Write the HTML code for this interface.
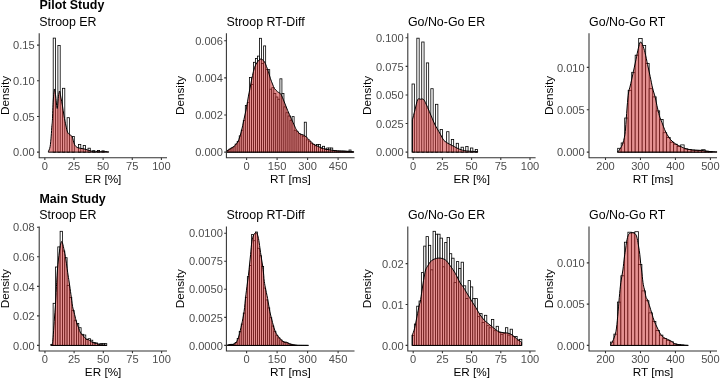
<!DOCTYPE html>
<html><head><meta charset="utf-8"><style>
html,body{margin:0;padding:0;background:#fff;width:720px;height:379px;overflow:hidden}
svg{display:block;will-change:transform}
text{font-family:"Liberation Sans", sans-serif}
</style></head><body>
<svg width="720" height="379" viewBox="0 0 720 379">
<rect width="720" height="379" fill="#fff"/>
<text x="39.5" y="9.3" font-size="12.42" font-weight="bold">Pilot Study</text>
<text x="39.5" y="202.7" font-size="12.42" font-weight="bold">Main Study</text>
<g fill="#fff" stroke="#000" stroke-width="0.8"><rect x="53.2" y="38.1" width="2.3" height="114.05"/><rect x="57.9" y="45.4" width="2.3" height="106.75"/><rect x="62.5" y="88.3" width="2.3" height="63.85"/><rect x="67.1" y="117.7" width="2.3" height="34.45"/><rect x="72" y="136.4" width="2.3" height="15.75"/><rect x="78.5" y="144.4" width="2.3" height="7.75"/><rect x="83.2" y="145.4" width="2.3" height="6.75"/><rect x="88" y="148.2" width="2.3" height="3.95"/><rect x="92.6" y="150.6" width="2.3" height="1.55"/><rect x="97.3" y="150.5" width="2.3" height="1.65"/><rect x="101.9" y="150.9" width="2.3" height="1.25"/></g>
<path d="M48.3,151.85 C48.6,150.99 49.62,149.32 50.1,146.7 C50.58,144.07 50.9,139.62 51.2,136.1 C51.5,132.58 51.7,128.23 51.9,125.6 C52.1,122.97 52.17,124.57 52.4,120.3 C52.63,116.03 52.94,105.22 53.3,100 C53.66,94.78 54.13,89.5 54.55,89 C54.97,88.5 55.36,93.75 55.8,97 C56.24,100.25 56.77,108.5 57.2,108.5 C57.63,108.5 58,99.92 58.4,97 C58.8,94.08 59.17,90.83 59.6,91 C60.03,91.17 60.52,95.5 61,98 C61.48,100.5 62,103.02 62.5,106 C63,108.98 63.42,112.57 64,115.9 C64.58,119.23 65.42,123.32 66,126 C66.58,128.68 66.95,130.58 67.5,132 C68.05,133.42 68.55,133.75 69.3,134.5 C70.05,135.25 71.12,134.82 72,136.5 C72.88,138.18 73.63,142.73 74.6,144.6 C75.57,146.47 76.23,146.98 77.8,147.7 C79.37,148.42 81.82,148.35 84,148.9 C86.18,149.45 88.97,150.52 90.9,151 C92.83,151.48 94.42,151.8 95.6,151.8 C96.78,151.8 97.18,151.03 98,151 C98.82,150.97 99.7,151.55 100.5,151.6 C101.3,151.65 101.43,151.26 102.8,151.3 C104.17,151.34 107.72,151.76 108.7,151.85 L108.7,152.15 L48.3,152.15 Z" fill="#cd2626" fill-opacity="0.5" stroke="none"/>
<path d="M48.3,151.85 C48.6,150.99 49.62,149.32 50.1,146.7 C50.58,144.07 50.9,139.62 51.2,136.1 C51.5,132.58 51.7,128.23 51.9,125.6 C52.1,122.97 52.17,124.57 52.4,120.3 C52.63,116.03 52.94,105.22 53.3,100 C53.66,94.78 54.13,89.5 54.55,89 C54.97,88.5 55.36,93.75 55.8,97 C56.24,100.25 56.77,108.5 57.2,108.5 C57.63,108.5 58,99.92 58.4,97 C58.8,94.08 59.17,90.83 59.6,91 C60.03,91.17 60.52,95.5 61,98 C61.48,100.5 62,103.02 62.5,106 C63,108.98 63.42,112.57 64,115.9 C64.58,119.23 65.42,123.32 66,126 C66.58,128.68 66.95,130.58 67.5,132 C68.05,133.42 68.55,133.75 69.3,134.5 C70.05,135.25 71.12,134.82 72,136.5 C72.88,138.18 73.63,142.73 74.6,144.6 C75.57,146.47 76.23,146.98 77.8,147.7 C79.37,148.42 81.82,148.35 84,148.9 C86.18,149.45 88.97,150.52 90.9,151 C92.83,151.48 94.42,151.8 95.6,151.8 C96.78,151.8 97.18,151.03 98,151 C98.82,150.97 99.7,151.55 100.5,151.6 C101.3,151.65 101.43,151.26 102.8,151.3 C104.17,151.34 107.72,151.76 108.7,151.85 L108.7,152.15 L48.3,152.15 Z" fill="none" stroke="#000" stroke-width="1.0" stroke-linejoin="round"/>
<path d="M39.2,33.3 V157.7 H167" fill="none" stroke="#333" stroke-width="1.07"/>
<text x="44.85" y="169.8" font-size="11.1" fill="#4d4d4d" text-anchor="middle">0</text>
<text x="73.99" y="169.8" font-size="11.1" fill="#4d4d4d" text-anchor="middle">25</text>
<text x="103.12" y="169.8" font-size="11.1" fill="#4d4d4d" text-anchor="middle">50</text>
<text x="132.26" y="169.8" font-size="11.1" fill="#4d4d4d" text-anchor="middle">75</text>
<text x="161.4" y="169.8" font-size="11.1" fill="#4d4d4d" text-anchor="middle">100</text>
<text x="34.6" y="156.3" font-size="11.1" fill="#4d4d4d" text-anchor="end">0.00</text>
<text x="34.6" y="120.62" font-size="11.1" fill="#4d4d4d" text-anchor="end">0.05</text>
<text x="34.6" y="84.93" font-size="11.1" fill="#4d4d4d" text-anchor="end">0.10</text>
<text x="34.6" y="49.25" font-size="11.1" fill="#4d4d4d" text-anchor="end">0.15</text>
<path d="M44.85,157.7 v2.2 M73.99,157.7 v2.2 M103.12,157.7 v2.2 M132.26,157.7 v2.2 M161.4,157.7 v2.2 M39.2,152.15 h-2.2 M39.2,116.47 h-2.2 M39.2,80.78 h-2.2 M39.2,45.1 h-2.2" stroke="#333" stroke-width="1.07"/>
<text x="39.3" y="25.6" font-size="12.42">Stroop ER</text>
<text x="103.1" y="182.8" font-size="11.75" text-anchor="middle">ER [%]</text>
<text transform="translate(8.8,95.5) rotate(-90)" font-size="11.75" text-anchor="middle">Density</text>
<g fill="#fff" stroke="#000" stroke-width="0.8"><rect x="227.03" y="150.31" width="2.03" height="1.84"/><rect x="229.06" y="149.15" width="2.03" height="3"/><rect x="231.1" y="147.93" width="2.03" height="4.22"/><rect x="233.13" y="146.78" width="2.03" height="5.37"/><rect x="235.16" y="144.09" width="2.03" height="8.06"/><rect x="237.19" y="141.42" width="2.03" height="10.73"/><rect x="239.23" y="135.89" width="2.03" height="16.26"/><rect x="241.26" y="130.21" width="2.03" height="21.94"/><rect x="243.29" y="120.61" width="2.03" height="31.54"/><rect x="245.33" y="105.4" width="2.03" height="46.75"/><rect x="247.36" y="102.3" width="2.03" height="49.85"/><rect x="249.39" y="77.5" width="2.03" height="74.65"/><rect x="251.43" y="84.38" width="2.03" height="67.77"/><rect x="253.46" y="62.3" width="2.03" height="89.85"/><rect x="255.49" y="58.4" width="2.03" height="93.75"/><rect x="257.52" y="56.1" width="2.03" height="96.05"/><rect x="259.56" y="38.3" width="2.03" height="113.85"/><rect x="261.59" y="63.59" width="2.03" height="88.56"/><rect x="263.62" y="45.9" width="2.03" height="106.25"/><rect x="265.66" y="69.61" width="2.03" height="82.54"/><rect x="267.69" y="69.6" width="2.03" height="82.55"/><rect x="269.72" y="89.19" width="2.03" height="62.96"/><rect x="271.76" y="87.68" width="2.03" height="64.47"/><rect x="273.79" y="93.49" width="2.03" height="58.66"/><rect x="275.82" y="96.99" width="2.03" height="55.16"/><rect x="277.86" y="99.21" width="2.03" height="52.94"/><rect x="279.89" y="78.8" width="2.03" height="73.35"/><rect x="281.92" y="93.5" width="2.03" height="58.65"/><rect x="283.95" y="106.88" width="2.03" height="45.27"/><rect x="285.99" y="112.73" width="2.03" height="39.42"/><rect x="288.02" y="116.03" width="2.03" height="36.12"/><rect x="290.05" y="120.31" width="2.03" height="31.84"/><rect x="292.09" y="116.6" width="2.03" height="35.55"/><rect x="294.12" y="130.24" width="2.03" height="21.91"/><rect x="296.15" y="131.77" width="2.03" height="20.38"/><rect x="298.19" y="133.69" width="2.03" height="18.46"/><rect x="300.22" y="134.82" width="2.03" height="17.33"/><rect x="302.25" y="136.19" width="2.03" height="15.96"/><rect x="304.28" y="122.2" width="2.03" height="29.95"/><rect x="306.32" y="139.85" width="2.03" height="12.3"/><rect x="308.35" y="141.67" width="2.03" height="10.48"/><rect x="310.38" y="143.27" width="2.03" height="8.88"/><rect x="312.42" y="144.31" width="2.03" height="7.84"/><rect x="314.45" y="145.79" width="2.03" height="6.36"/><rect x="316.48" y="144.5" width="2.03" height="7.65"/><rect x="318.51" y="144.5" width="2.03" height="7.65"/><rect x="320.55" y="148.25" width="2.03" height="3.9"/><rect x="322.58" y="146.3" width="2.03" height="5.85"/><rect x="324.61" y="149.19" width="2.03" height="2.96"/><rect x="326.65" y="148" width="2.03" height="4.15"/><rect x="328.68" y="148" width="2.03" height="4.15"/><rect x="330.71" y="148" width="2.03" height="4.15"/><rect x="332.75" y="150.6" width="2.03" height="1.55"/><rect x="334.78" y="150.79" width="2.03" height="1.36"/><rect x="336.81" y="151.03" width="2.03" height="1.12"/><rect x="338.85" y="151.14" width="2.03" height="1.01"/><rect x="340.88" y="151.14" width="2.03" height="1.01"/><rect x="342.91" y="151.18" width="2.03" height="0.97"/><rect x="344.94" y="151.32" width="2.03" height="0.83"/><rect x="346.98" y="151.46" width="2.03" height="0.69"/><rect x="349.01" y="150" width="2.03" height="2.15"/><rect x="351.04" y="151.75" width="2.03" height="0.4"/></g>
<path d="M226.9,150.9 C227.47,150.53 229.17,149.42 230.3,148.7 C231.43,147.98 232.42,147.8 233.7,146.6 C234.98,145.4 236.72,144.07 238,141.5 C239.28,138.93 240.4,134.92 241.4,131.2 C242.4,127.48 243.13,123.2 244,119.2 C244.87,115.2 245.88,110.92 246.6,107.2 C247.32,103.48 247.73,100.05 248.3,96.9 C248.87,93.75 249.52,90.78 250,88.3 C250.48,85.82 250.78,84.13 251.2,82 C251.62,79.87 251.95,77.9 252.5,75.5 C253.05,73.1 253.72,69.8 254.5,67.6 C255.28,65.4 256.15,63.73 257.2,62.3 C258.25,60.87 259.6,59.1 260.8,59 C262,58.9 263.47,60.48 264.4,61.7 C265.33,62.92 265.73,64.65 266.4,66.3 C267.07,67.95 267.75,69.62 268.4,71.6 C269.05,73.58 269.62,76.13 270.3,78.2 C270.98,80.27 271.8,82.28 272.5,84 C273.2,85.72 273.67,87.22 274.5,88.5 C275.33,89.78 276.43,90.73 277.5,91.7 C278.57,92.67 279.77,92.58 280.9,94.3 C282.03,96.02 283.17,99.28 284.3,102 C285.43,104.72 286.55,107.88 287.7,110.6 C288.85,113.32 290.05,115.73 291.2,118.3 C292.35,120.87 293.75,124.13 294.6,126 C295.45,127.87 295.45,128.22 296.3,129.5 C297.15,130.78 298.55,132.8 299.7,133.7 C300.85,134.6 302.05,134.32 303.2,134.9 C304.35,135.48 305.47,136.25 306.6,137.2 C307.73,138.15 308.87,139.47 310,140.6 C311.13,141.73 311.97,143 313.4,144 C314.83,145 316.88,145.82 318.6,146.6 C320.32,147.38 321.7,148.13 323.7,148.7 C325.7,149.27 328.3,149.63 330.6,150 C332.9,150.37 334.93,150.7 337.5,150.9 C340.07,151.1 343.28,151.04 346,151.2 C348.72,151.36 352.5,151.74 353.8,151.85 L353.8,152.15 L226.9,152.15 Z" fill="#cd2626" fill-opacity="0.5" stroke="none"/>
<path d="M226.9,150.9 C227.47,150.53 229.17,149.42 230.3,148.7 C231.43,147.98 232.42,147.8 233.7,146.6 C234.98,145.4 236.72,144.07 238,141.5 C239.28,138.93 240.4,134.92 241.4,131.2 C242.4,127.48 243.13,123.2 244,119.2 C244.87,115.2 245.88,110.92 246.6,107.2 C247.32,103.48 247.73,100.05 248.3,96.9 C248.87,93.75 249.52,90.78 250,88.3 C250.48,85.82 250.78,84.13 251.2,82 C251.62,79.87 251.95,77.9 252.5,75.5 C253.05,73.1 253.72,69.8 254.5,67.6 C255.28,65.4 256.15,63.73 257.2,62.3 C258.25,60.87 259.6,59.1 260.8,59 C262,58.9 263.47,60.48 264.4,61.7 C265.33,62.92 265.73,64.65 266.4,66.3 C267.07,67.95 267.75,69.62 268.4,71.6 C269.05,73.58 269.62,76.13 270.3,78.2 C270.98,80.27 271.8,82.28 272.5,84 C273.2,85.72 273.67,87.22 274.5,88.5 C275.33,89.78 276.43,90.73 277.5,91.7 C278.57,92.67 279.77,92.58 280.9,94.3 C282.03,96.02 283.17,99.28 284.3,102 C285.43,104.72 286.55,107.88 287.7,110.6 C288.85,113.32 290.05,115.73 291.2,118.3 C292.35,120.87 293.75,124.13 294.6,126 C295.45,127.87 295.45,128.22 296.3,129.5 C297.15,130.78 298.55,132.8 299.7,133.7 C300.85,134.6 302.05,134.32 303.2,134.9 C304.35,135.48 305.47,136.25 306.6,137.2 C307.73,138.15 308.87,139.47 310,140.6 C311.13,141.73 311.97,143 313.4,144 C314.83,145 316.88,145.82 318.6,146.6 C320.32,147.38 321.7,148.13 323.7,148.7 C325.7,149.27 328.3,149.63 330.6,150 C332.9,150.37 334.93,150.7 337.5,150.9 C340.07,151.1 343.28,151.04 346,151.2 C348.72,151.36 352.5,151.74 353.8,151.85 L353.8,152.15 L226.9,152.15 Z" fill="none" stroke="#000" stroke-width="1.0" stroke-linejoin="round"/>
<path d="M226.4,33.3 V157.7 H354.5" fill="none" stroke="#333" stroke-width="1.07"/>
<text x="246.6" y="169.8" font-size="11.1" fill="#4d4d4d" text-anchor="middle">0</text>
<text x="277.1" y="169.8" font-size="11.1" fill="#4d4d4d" text-anchor="middle">150</text>
<text x="307.6" y="169.8" font-size="11.1" fill="#4d4d4d" text-anchor="middle">300</text>
<text x="338.1" y="169.8" font-size="11.1" fill="#4d4d4d" text-anchor="middle">450</text>
<text x="222.9" y="156.3" font-size="11.1" fill="#4d4d4d" text-anchor="end">0.000</text>
<text x="222.9" y="119.15" font-size="11.1" fill="#4d4d4d" text-anchor="end">0.002</text>
<text x="222.9" y="82" font-size="11.1" fill="#4d4d4d" text-anchor="end">0.004</text>
<text x="222.9" y="44.85" font-size="11.1" fill="#4d4d4d" text-anchor="end">0.006</text>
<path d="M246.6,157.7 v2.2 M277.1,157.7 v2.2 M307.6,157.7 v2.2 M338.1,157.7 v2.2 M226.4,152.15 h-2.2 M226.4,115 h-2.2 M226.4,77.85 h-2.2 M226.4,40.7 h-2.2" stroke="#333" stroke-width="1.07"/>
<text x="226.5" y="25.6" font-size="12.42">Stroop RT-Diff</text>
<text x="290.45" y="182.8" font-size="11.75" text-anchor="middle">RT [ms]</text>
<text transform="translate(184,95.5) rotate(-90)" font-size="11.75" text-anchor="middle">Density</text>
<g fill="#fff" stroke="#000" stroke-width="0.8"><rect x="412.03" y="84" width="2.34" height="68.15"/><rect x="416.83" y="38.2" width="2.34" height="113.95"/><rect x="421.73" y="42" width="2.34" height="110.15"/><rect x="426.33" y="62.9" width="2.34" height="89.25"/><rect x="430.83" y="88.7" width="2.34" height="63.45"/><rect x="435.53" y="104.3" width="2.34" height="47.85"/><rect x="440.13" y="129.5" width="2.34" height="22.65"/><rect x="446.63" y="131.7" width="2.34" height="20.45"/><rect x="451.33" y="139.4" width="2.34" height="12.75"/><rect x="456.23" y="143.3" width="2.34" height="8.85"/><rect x="461.03" y="147.2" width="2.34" height="4.95"/><rect x="465.73" y="146.4" width="2.34" height="5.75"/><rect x="470.53" y="148" width="2.34" height="4.15"/><rect x="475.23" y="149.4" width="2.34" height="2.75"/></g>
<path d="M412.4,119.8 C412.83,118.13 414.12,113.17 415,109.8 C415.88,106.43 416.78,101.37 417.7,99.6 C418.62,97.83 419.53,99.23 420.5,99.2 C421.47,99.17 422.57,98.6 423.5,99.4 C424.43,100.2 425.13,102 426.1,104 C427.07,106 428.25,108.93 429.3,111.4 C430.35,113.87 431.43,116.53 432.4,118.8 C433.37,121.07 434.3,123.35 435.1,125 C435.9,126.65 436.28,127.1 437.2,128.7 C438.12,130.3 439.47,132.62 440.6,134.6 C441.73,136.58 442.57,139.03 444,140.6 C445.43,142.17 447.48,143 449.2,144 C450.92,145 452.58,145.73 454.3,146.6 C456.02,147.47 457.5,148.48 459.5,149.2 C461.5,149.92 463.27,150.5 466.3,150.9 C469.33,151.3 475.8,151.48 477.7,151.6 L477.7,152.15 L412.4,152.15 Z" fill="#cd2626" fill-opacity="0.5" stroke="none"/>
<path d="M412.4,119.8 C412.83,118.13 414.12,113.17 415,109.8 C415.88,106.43 416.78,101.37 417.7,99.6 C418.62,97.83 419.53,99.23 420.5,99.2 C421.47,99.17 422.57,98.6 423.5,99.4 C424.43,100.2 425.13,102 426.1,104 C427.07,106 428.25,108.93 429.3,111.4 C430.35,113.87 431.43,116.53 432.4,118.8 C433.37,121.07 434.3,123.35 435.1,125 C435.9,126.65 436.28,127.1 437.2,128.7 C438.12,130.3 439.47,132.62 440.6,134.6 C441.73,136.58 442.57,139.03 444,140.6 C445.43,142.17 447.48,143 449.2,144 C450.92,145 452.58,145.73 454.3,146.6 C456.02,147.47 457.5,148.48 459.5,149.2 C461.5,149.92 463.27,150.5 466.3,150.9 C469.33,151.3 475.8,151.48 477.7,151.6 L477.7,152.15 L412.4,152.15 Z" fill="none" stroke="#000" stroke-width="1.0" stroke-linejoin="round"/>
<path d="M407.8,33.3 V157.7 H535.6" fill="none" stroke="#333" stroke-width="1.07"/>
<text x="413.2" y="169.8" font-size="11.1" fill="#4d4d4d" text-anchor="middle">0</text>
<text x="442.4" y="169.8" font-size="11.1" fill="#4d4d4d" text-anchor="middle">25</text>
<text x="471.6" y="169.8" font-size="11.1" fill="#4d4d4d" text-anchor="middle">50</text>
<text x="500.8" y="169.8" font-size="11.1" fill="#4d4d4d" text-anchor="middle">75</text>
<text x="530" y="169.8" font-size="11.1" fill="#4d4d4d" text-anchor="middle">100</text>
<text x="403.7" y="156.3" font-size="11.1" fill="#4d4d4d" text-anchor="end">0.000</text>
<text x="403.7" y="127.71" font-size="11.1" fill="#4d4d4d" text-anchor="end">0.025</text>
<text x="403.7" y="99.12" font-size="11.1" fill="#4d4d4d" text-anchor="end">0.050</text>
<text x="403.7" y="70.54" font-size="11.1" fill="#4d4d4d" text-anchor="end">0.075</text>
<text x="403.7" y="41.95" font-size="11.1" fill="#4d4d4d" text-anchor="end">0.100</text>
<path d="M413.2,157.7 v2.2 M442.4,157.7 v2.2 M471.6,157.7 v2.2 M500.8,157.7 v2.2 M530,157.7 v2.2 M407.8,152.15 h-2.2 M407.8,123.56 h-2.2 M407.8,94.97 h-2.2 M407.8,66.39 h-2.2 M407.8,37.8 h-2.2" stroke="#333" stroke-width="1.07"/>
<text x="407.9" y="25.6" font-size="12.42">Go/No-Go ER</text>
<text x="471.7" y="182.8" font-size="11.75" text-anchor="middle">ER [%]</text>
<text transform="translate(371.1,95.5) rotate(-90)" font-size="11.75" text-anchor="middle">Density</text>
<g fill="#fff" stroke="#000" stroke-width="0.8"><rect x="617.7" y="148.3" width="3.5" height="3.85"/><rect x="621.19" y="142.96" width="3.5" height="9.19"/><rect x="624.69" y="118.01" width="3.5" height="34.14"/><rect x="628.19" y="90.3" width="3.5" height="61.85"/><rect x="631.69" y="72.3" width="3.5" height="79.85"/><rect x="635.18" y="55.2" width="3.5" height="96.95"/><rect x="638.68" y="38.5" width="3.5" height="113.65"/><rect x="642.18" y="45.4" width="3.5" height="106.75"/><rect x="645.67" y="63.4" width="3.5" height="88.75"/><rect x="649.17" y="88.69" width="3.5" height="63.46"/><rect x="652.67" y="96.9" width="3.5" height="55.25"/><rect x="656.16" y="110.86" width="3.5" height="41.29"/><rect x="659.66" y="119.5" width="3.5" height="32.65"/><rect x="663.16" y="132.72" width="3.5" height="19.43"/><rect x="666.66" y="137.45" width="3.5" height="14.7"/><rect x="670.15" y="142.27" width="3.5" height="9.88"/><rect x="673.65" y="144.22" width="3.5" height="7.93"/><rect x="677.15" y="146.41" width="3.5" height="5.74"/><rect x="680.64" y="144.9" width="3.5" height="7.25"/><rect x="684.14" y="148.96" width="3.5" height="3.19"/><rect x="687.64" y="149.56" width="3.5" height="2.59"/><rect x="691.13" y="150.12" width="3.5" height="2.03"/><rect x="694.63" y="150.34" width="3.5" height="1.81"/><rect x="698.13" y="150.41" width="3.5" height="1.74"/><rect x="701.62" y="149.7" width="3.5" height="2.45"/><rect x="705.12" y="151.22" width="3.5" height="0.93"/><rect x="708.62" y="151.59" width="3.5" height="0.56"/></g>
<path d="M617.5,151.6 C617.73,151.48 618.53,151.3 618.9,150.9 C619.27,150.5 619.13,150.2 619.7,149.2 C620.27,148.2 621.43,147.33 622.3,144.9 C623.17,142.47 624.27,138.6 624.9,134.6 C625.53,130.6 625.72,125.67 626.1,120.9 C626.48,116.13 626.8,110.65 627.2,106 C627.6,101.35 628,96.33 628.5,93 C629,89.67 629.5,89.02 630.2,86 C630.9,82.98 631.73,79.33 632.7,74.9 C633.67,70.47 635.07,63.8 636,59.4 C636.93,55 637.57,51.4 638.3,48.5 C639.03,45.6 639.65,42.5 640.4,42 C641.15,41.5 642.03,43.73 642.8,45.5 C643.57,47.27 644.2,49.42 645,52.6 C645.8,55.78 646.73,60.6 647.6,64.6 C648.47,68.6 649.35,72.6 650.2,76.6 C651.05,80.6 651.88,85.22 652.7,88.6 C653.52,91.98 654.4,94.1 655.1,96.9 C655.8,99.7 656.18,102.27 656.9,105.4 C657.62,108.53 658.55,112.83 659.4,115.7 C660.25,118.57 661.13,120.3 662,122.6 C662.87,124.9 663.73,127.5 664.6,129.5 C665.47,131.5 666.2,132.9 667.2,134.6 C668.2,136.3 669.18,138.13 670.6,139.7 C672.02,141.27 673.98,142.85 675.7,144 C677.42,145.15 679.18,145.8 680.9,146.6 C682.62,147.4 684,148.23 686,148.8 C688,149.37 690.32,149.73 692.9,150 C695.48,150.27 698.93,150.17 701.5,150.4 C704.07,150.63 705.73,151.16 708.3,151.4 C710.87,151.64 715.47,151.78 716.9,151.85 L716.9,152.15 L617.5,152.15 Z" fill="#cd2626" fill-opacity="0.5" stroke="none"/>
<path d="M617.5,151.6 C617.73,151.48 618.53,151.3 618.9,150.9 C619.27,150.5 619.13,150.2 619.7,149.2 C620.27,148.2 621.43,147.33 622.3,144.9 C623.17,142.47 624.27,138.6 624.9,134.6 C625.53,130.6 625.72,125.67 626.1,120.9 C626.48,116.13 626.8,110.65 627.2,106 C627.6,101.35 628,96.33 628.5,93 C629,89.67 629.5,89.02 630.2,86 C630.9,82.98 631.73,79.33 632.7,74.9 C633.67,70.47 635.07,63.8 636,59.4 C636.93,55 637.57,51.4 638.3,48.5 C639.03,45.6 639.65,42.5 640.4,42 C641.15,41.5 642.03,43.73 642.8,45.5 C643.57,47.27 644.2,49.42 645,52.6 C645.8,55.78 646.73,60.6 647.6,64.6 C648.47,68.6 649.35,72.6 650.2,76.6 C651.05,80.6 651.88,85.22 652.7,88.6 C653.52,91.98 654.4,94.1 655.1,96.9 C655.8,99.7 656.18,102.27 656.9,105.4 C657.62,108.53 658.55,112.83 659.4,115.7 C660.25,118.57 661.13,120.3 662,122.6 C662.87,124.9 663.73,127.5 664.6,129.5 C665.47,131.5 666.2,132.9 667.2,134.6 C668.2,136.3 669.18,138.13 670.6,139.7 C672.02,141.27 673.98,142.85 675.7,144 C677.42,145.15 679.18,145.8 680.9,146.6 C682.62,147.4 684,148.23 686,148.8 C688,149.37 690.32,149.73 692.9,150 C695.48,150.27 698.93,150.17 701.5,150.4 C704.07,150.63 705.73,151.16 708.3,151.4 C710.87,151.64 715.47,151.78 716.9,151.85 L716.9,152.15 L617.5,152.15 Z" fill="none" stroke="#000" stroke-width="1.0" stroke-linejoin="round"/>
<path d="M589,33.3 V157.7 H717" fill="none" stroke="#333" stroke-width="1.07"/>
<text x="605.5" y="169.8" font-size="11.1" fill="#4d4d4d" text-anchor="middle">200</text>
<text x="640.47" y="169.8" font-size="11.1" fill="#4d4d4d" text-anchor="middle">300</text>
<text x="675.43" y="169.8" font-size="11.1" fill="#4d4d4d" text-anchor="middle">400</text>
<text x="710.4" y="169.8" font-size="11.1" fill="#4d4d4d" text-anchor="middle">500</text>
<text x="584.7" y="156.3" font-size="11.1" fill="#4d4d4d" text-anchor="end">0.000</text>
<text x="584.7" y="113.93" font-size="11.1" fill="#4d4d4d" text-anchor="end">0.005</text>
<text x="584.7" y="71.55" font-size="11.1" fill="#4d4d4d" text-anchor="end">0.010</text>
<path d="M605.5,157.7 v2.2 M640.47,157.7 v2.2 M675.43,157.7 v2.2 M710.4,157.7 v2.2 M589,152.15 h-2.2 M589,109.78 h-2.2 M589,67.4 h-2.2" stroke="#333" stroke-width="1.07"/>
<text x="589.1" y="25.6" font-size="12.42">Go/No-Go RT</text>
<text x="653" y="182.8" font-size="11.75" text-anchor="middle">RT [ms]</text>
<text transform="translate(552.8,95.5) rotate(-90)" font-size="11.75" text-anchor="middle">Density</text>
<g fill="#fff" stroke="#000" stroke-width="0.8"><rect x="50.79" y="344.5" width="2.33" height="0.9"/><rect x="53.12" y="303.3" width="2.33" height="42.1"/><rect x="55.45" y="267" width="2.33" height="78.4"/><rect x="57.78" y="246.9" width="2.33" height="98.5"/><rect x="60.12" y="231.3" width="2.33" height="114.1"/><rect x="62.45" y="251" width="2.33" height="94.4"/><rect x="64.78" y="257.7" width="2.33" height="87.7"/><rect x="67.12" y="285.32" width="2.33" height="60.08"/><rect x="69.45" y="297.44" width="2.33" height="47.96"/><rect x="71.78" y="310.4" width="2.33" height="35"/><rect x="74.12" y="320.71" width="2.33" height="24.69"/><rect x="76.45" y="323.5" width="2.33" height="21.9"/><rect x="78.78" y="327.7" width="2.33" height="17.7"/><rect x="81.12" y="334.3" width="2.33" height="11.1"/><rect x="83.45" y="335" width="2.33" height="10.4"/><rect x="85.78" y="339.6" width="2.33" height="5.8"/><rect x="88.11" y="338.7" width="2.33" height="6.7"/><rect x="90.45" y="340.2" width="2.33" height="5.2"/><rect x="92.78" y="342.5" width="2.33" height="2.9"/><rect x="95.11" y="342.9" width="2.33" height="2.5"/><rect x="97.45" y="344.2" width="2.33" height="1.2"/><rect x="99.78" y="343.6" width="2.33" height="1.8"/><rect x="102.11" y="343.5" width="2.33" height="1.9"/><rect x="104.44" y="343.6" width="2.33" height="1.8"/></g>
<path d="M51.3,345.4 C51.47,345.13 52,345.12 52.3,343.8 C52.6,342.48 52.78,341.2 53.1,337.5 C53.42,333.8 53.8,327.15 54.2,321.6 C54.6,316.05 55.15,309.63 55.5,304.2 C55.85,298.77 56.08,293.03 56.3,289 C56.52,284.97 56.62,283.17 56.8,280 C56.98,276.83 57.12,273.5 57.4,270 C57.68,266.5 58.02,263.03 58.5,259 C58.98,254.97 59.73,248.7 60.3,245.8 C60.87,242.9 61.32,241.15 61.9,241.6 C62.48,242.05 63.15,245.6 63.8,248.5 C64.45,251.4 65.25,255.7 65.8,259 C66.35,262.3 66.7,265.47 67.1,268.3 C67.5,271.13 67.83,273.55 68.2,276 C68.57,278.45 68.85,279.95 69.3,283 C69.75,286.05 70.35,290.37 70.9,294.3 C71.45,298.23 71.98,303.23 72.6,306.6 C73.22,309.97 73.93,311.87 74.6,314.5 C75.27,317.13 75.93,320.2 76.6,322.4 C77.27,324.6 77.93,325.93 78.6,327.7 C79.27,329.47 79.83,331.68 80.6,333 C81.37,334.32 82.33,334.62 83.2,335.6 C84.07,336.58 84.92,338.23 85.8,338.9 C86.68,339.57 87.62,339.15 88.5,339.6 C89.38,340.05 90.23,341.05 91.1,341.6 C91.97,342.15 92.82,342.58 93.7,342.9 C94.58,343.22 95.3,343.22 96.4,343.5 C97.5,343.78 98.77,344.33 100.3,344.6 C101.83,344.87 104.53,344.97 105.6,345.1 C106.67,345.23 106.52,345.35 106.7,345.4 L106.7,345.4 L51.3,345.4 Z" fill="#cd2626" fill-opacity="0.5" stroke="none"/>
<path d="M51.3,345.4 C51.47,345.13 52,345.12 52.3,343.8 C52.6,342.48 52.78,341.2 53.1,337.5 C53.42,333.8 53.8,327.15 54.2,321.6 C54.6,316.05 55.15,309.63 55.5,304.2 C55.85,298.77 56.08,293.03 56.3,289 C56.52,284.97 56.62,283.17 56.8,280 C56.98,276.83 57.12,273.5 57.4,270 C57.68,266.5 58.02,263.03 58.5,259 C58.98,254.97 59.73,248.7 60.3,245.8 C60.87,242.9 61.32,241.15 61.9,241.6 C62.48,242.05 63.15,245.6 63.8,248.5 C64.45,251.4 65.25,255.7 65.8,259 C66.35,262.3 66.7,265.47 67.1,268.3 C67.5,271.13 67.83,273.55 68.2,276 C68.57,278.45 68.85,279.95 69.3,283 C69.75,286.05 70.35,290.37 70.9,294.3 C71.45,298.23 71.98,303.23 72.6,306.6 C73.22,309.97 73.93,311.87 74.6,314.5 C75.27,317.13 75.93,320.2 76.6,322.4 C77.27,324.6 77.93,325.93 78.6,327.7 C79.27,329.47 79.83,331.68 80.6,333 C81.37,334.32 82.33,334.62 83.2,335.6 C84.07,336.58 84.92,338.23 85.8,338.9 C86.68,339.57 87.62,339.15 88.5,339.6 C89.38,340.05 90.23,341.05 91.1,341.6 C91.97,342.15 92.82,342.58 93.7,342.9 C94.58,343.22 95.3,343.22 96.4,343.5 C97.5,343.78 98.77,344.33 100.3,344.6 C101.83,344.87 104.53,344.97 105.6,345.1 C106.67,345.23 106.52,345.35 106.7,345.4 L106.7,345.4 L51.3,345.4 Z" fill="none" stroke="#000" stroke-width="1.0" stroke-linejoin="round"/>
<path d="M39.2,226.5 V351 H167" fill="none" stroke="#333" stroke-width="1.07"/>
<text x="44.95" y="362.6" font-size="11.1" fill="#4d4d4d" text-anchor="middle">0</text>
<text x="74.11" y="362.6" font-size="11.1" fill="#4d4d4d" text-anchor="middle">25</text>
<text x="103.28" y="362.6" font-size="11.1" fill="#4d4d4d" text-anchor="middle">50</text>
<text x="132.44" y="362.6" font-size="11.1" fill="#4d4d4d" text-anchor="middle">75</text>
<text x="161.6" y="362.6" font-size="11.1" fill="#4d4d4d" text-anchor="middle">100</text>
<text x="34.6" y="349.55" font-size="11.1" fill="#4d4d4d" text-anchor="end">0.00</text>
<text x="34.6" y="320.02" font-size="11.1" fill="#4d4d4d" text-anchor="end">0.02</text>
<text x="34.6" y="290.5" font-size="11.1" fill="#4d4d4d" text-anchor="end">0.04</text>
<text x="34.6" y="260.97" font-size="11.1" fill="#4d4d4d" text-anchor="end">0.06</text>
<text x="34.6" y="231.45" font-size="11.1" fill="#4d4d4d" text-anchor="end">0.08</text>
<path d="M44.95,351 v2.2 M74.11,351 v2.2 M103.28,351 v2.2 M132.44,351 v2.2 M161.6,351 v2.2 M39.2,345.4 h-2.2 M39.2,315.88 h-2.2 M39.2,286.35 h-2.2 M39.2,256.82 h-2.2 M39.2,227.3 h-2.2" stroke="#333" stroke-width="1.07"/>
<text x="39.3" y="219.1" font-size="12.42">Stroop ER</text>
<text x="103.1" y="375.6" font-size="11.75" text-anchor="middle">ER [%]</text>
<text transform="translate(8.8,288.75) rotate(-90)" font-size="11.75" text-anchor="middle">Density</text>
<g fill="#fff" stroke="#000" stroke-width="0.8"><rect x="227.03" y="345.08" width="2.03" height="0.32"/><rect x="229.06" y="344.61" width="2.03" height="0.79"/><rect x="231.1" y="344.47" width="2.03" height="0.93"/><rect x="233.13" y="344.07" width="2.03" height="1.33"/><rect x="235.16" y="342.42" width="2.03" height="2.98"/><rect x="237.19" y="338.49" width="2.03" height="6.91"/><rect x="239.23" y="331.48" width="2.03" height="13.92"/><rect x="241.26" y="324.13" width="2.03" height="21.27"/><rect x="243.29" y="313.13" width="2.03" height="32.27"/><rect x="245.33" y="297.33" width="2.03" height="48.07"/><rect x="247.36" y="276.6" width="2.03" height="68.8"/><rect x="249.39" y="265.49" width="2.03" height="79.91"/><rect x="251.43" y="234.6" width="2.03" height="110.8"/><rect x="253.46" y="240.73" width="2.03" height="104.67"/><rect x="255.49" y="232" width="2.03" height="113.4"/><rect x="257.52" y="248.24" width="2.03" height="97.16"/><rect x="259.56" y="255.74" width="2.03" height="89.66"/><rect x="261.59" y="266.5" width="2.03" height="78.9"/><rect x="263.62" y="288.04" width="2.03" height="57.36"/><rect x="265.66" y="299.96" width="2.03" height="45.44"/><rect x="267.69" y="307.92" width="2.03" height="37.48"/><rect x="269.72" y="317.7" width="2.03" height="27.7"/><rect x="271.76" y="326.06" width="2.03" height="19.34"/><rect x="273.79" y="331.32" width="2.03" height="14.08"/><rect x="275.82" y="335.62" width="2.03" height="9.78"/><rect x="277.86" y="337.96" width="2.03" height="7.44"/><rect x="279.89" y="339.93" width="2.03" height="5.47"/><rect x="281.92" y="341.51" width="2.03" height="3.89"/><rect x="283.95" y="342.31" width="2.03" height="3.09"/><rect x="285.99" y="342.76" width="2.03" height="2.64"/><rect x="288.02" y="343.82" width="2.03" height="1.58"/><rect x="290.05" y="344.3" width="2.03" height="1.1"/><rect x="292.09" y="344.76" width="2.03" height="0.64"/><rect x="294.12" y="345.09" width="2.03" height="0.31"/></g>
<path d="M227.5,345.2 C227.75,345.13 228.42,344.95 229,344.8 C229.58,344.65 230.33,344.35 231,344.3 C231.67,344.25 232.33,344.65 233,344.5 C233.67,344.35 234.4,343.85 235,343.4 C235.6,342.95 235.95,343.03 236.6,341.8 C237.25,340.57 238.05,338.92 238.9,336 C239.75,333.08 240.83,328.4 241.7,324.3 C242.57,320.2 243.4,316.32 244.1,311.4 C244.8,306.48 245.28,300.03 245.9,294.8 C246.52,289.57 247.35,283.47 247.8,280 C248.25,276.53 248.32,276.5 248.6,274 C248.88,271.5 249.17,268.27 249.5,265 C249.83,261.73 250.2,258.37 250.6,254.4 C251,250.43 251.4,244.43 251.9,241.2 C252.4,237.97 252.95,236.43 253.6,235 C254.25,233.57 255.2,232.77 255.8,232.6 C256.4,232.43 256.75,233 257.2,234 C257.65,235 258.05,236.3 258.5,238.6 C258.95,240.9 259.45,244.73 259.9,247.8 C260.35,250.87 260.77,254.13 261.2,257 C261.63,259.87 262.1,262.17 262.5,265 C262.9,267.83 263.33,271.5 263.6,274 C263.87,276.5 263.82,277.77 264.1,280 C264.38,282.23 264.72,284.32 265.3,287.4 C265.88,290.48 266.85,294.5 267.6,298.5 C268.35,302.5 268.98,307.42 269.8,311.4 C270.62,315.38 271.58,319.02 272.5,322.4 C273.42,325.78 274.13,329.08 275.3,331.7 C276.47,334.32 278.37,336.62 279.5,338.1 C280.63,339.58 281.32,339.92 282.1,340.6 C282.88,341.28 283.5,341.93 284.2,342.2 C284.9,342.47 285.42,341.93 286.3,342.2 C287.18,342.47 288.43,343.4 289.5,343.8 C290.57,344.2 291.65,344.37 292.7,344.6 C293.75,344.83 293.17,345.07 295.8,345.2 C298.43,345.33 306.38,345.37 308.5,345.4 L308.5,345.4 L227.5,345.4 Z" fill="#cd2626" fill-opacity="0.5" stroke="none"/>
<path d="M227.5,345.2 C227.75,345.13 228.42,344.95 229,344.8 C229.58,344.65 230.33,344.35 231,344.3 C231.67,344.25 232.33,344.65 233,344.5 C233.67,344.35 234.4,343.85 235,343.4 C235.6,342.95 235.95,343.03 236.6,341.8 C237.25,340.57 238.05,338.92 238.9,336 C239.75,333.08 240.83,328.4 241.7,324.3 C242.57,320.2 243.4,316.32 244.1,311.4 C244.8,306.48 245.28,300.03 245.9,294.8 C246.52,289.57 247.35,283.47 247.8,280 C248.25,276.53 248.32,276.5 248.6,274 C248.88,271.5 249.17,268.27 249.5,265 C249.83,261.73 250.2,258.37 250.6,254.4 C251,250.43 251.4,244.43 251.9,241.2 C252.4,237.97 252.95,236.43 253.6,235 C254.25,233.57 255.2,232.77 255.8,232.6 C256.4,232.43 256.75,233 257.2,234 C257.65,235 258.05,236.3 258.5,238.6 C258.95,240.9 259.45,244.73 259.9,247.8 C260.35,250.87 260.77,254.13 261.2,257 C261.63,259.87 262.1,262.17 262.5,265 C262.9,267.83 263.33,271.5 263.6,274 C263.87,276.5 263.82,277.77 264.1,280 C264.38,282.23 264.72,284.32 265.3,287.4 C265.88,290.48 266.85,294.5 267.6,298.5 C268.35,302.5 268.98,307.42 269.8,311.4 C270.62,315.38 271.58,319.02 272.5,322.4 C273.42,325.78 274.13,329.08 275.3,331.7 C276.47,334.32 278.37,336.62 279.5,338.1 C280.63,339.58 281.32,339.92 282.1,340.6 C282.88,341.28 283.5,341.93 284.2,342.2 C284.9,342.47 285.42,341.93 286.3,342.2 C287.18,342.47 288.43,343.4 289.5,343.8 C290.57,344.2 291.65,344.37 292.7,344.6 C293.75,344.83 293.17,345.07 295.8,345.2 C298.43,345.33 306.38,345.37 308.5,345.4 L308.5,345.4 L227.5,345.4 Z" fill="none" stroke="#000" stroke-width="1.0" stroke-linejoin="round"/>
<path d="M226.4,226.5 V351 H354.5" fill="none" stroke="#333" stroke-width="1.07"/>
<text x="246.6" y="362.6" font-size="11.1" fill="#4d4d4d" text-anchor="middle">0</text>
<text x="277.1" y="362.6" font-size="11.1" fill="#4d4d4d" text-anchor="middle">150</text>
<text x="307.6" y="362.6" font-size="11.1" fill="#4d4d4d" text-anchor="middle">300</text>
<text x="338.1" y="362.6" font-size="11.1" fill="#4d4d4d" text-anchor="middle">450</text>
<text x="222.9" y="349.55" font-size="11.1" fill="#4d4d4d" text-anchor="end">0.0000</text>
<text x="222.9" y="321.5" font-size="11.1" fill="#4d4d4d" text-anchor="end">0.0025</text>
<text x="222.9" y="293.45" font-size="11.1" fill="#4d4d4d" text-anchor="end">0.0050</text>
<text x="222.9" y="265.4" font-size="11.1" fill="#4d4d4d" text-anchor="end">0.0075</text>
<text x="222.9" y="237.35" font-size="11.1" fill="#4d4d4d" text-anchor="end">0.0100</text>
<path d="M246.6,351 v2.2 M277.1,351 v2.2 M307.6,351 v2.2 M338.1,351 v2.2 M226.4,345.4 h-2.2 M226.4,317.35 h-2.2 M226.4,289.3 h-2.2 M226.4,261.25 h-2.2 M226.4,233.2 h-2.2" stroke="#333" stroke-width="1.07"/>
<text x="226.5" y="219.1" font-size="12.42">Stroop RT-Diff</text>
<text x="290.45" y="375.6" font-size="11.75" text-anchor="middle">RT [ms]</text>
<text transform="translate(184,288.75) rotate(-90)" font-size="11.75" text-anchor="middle">Density</text>
<g fill="#fff" stroke="#000" stroke-width="0.8"><rect x="412.03" y="335.3" width="2.34" height="10.1"/><rect x="414.37" y="324" width="2.34" height="21.4"/><rect x="416.7" y="306.2" width="2.34" height="39.2"/><rect x="419.04" y="301" width="2.34" height="44.4"/><rect x="421.37" y="272.6" width="2.34" height="72.8"/><rect x="423.71" y="246.1" width="2.34" height="99.3"/><rect x="426.05" y="236.6" width="2.34" height="108.8"/><rect x="428.38" y="245.3" width="2.34" height="100.1"/><rect x="430.72" y="269.84" width="2.34" height="75.56"/><rect x="433.05" y="231.3" width="2.34" height="114.1"/><rect x="435.39" y="234.2" width="2.34" height="111.2"/><rect x="437.73" y="234.2" width="2.34" height="111.2"/><rect x="440.06" y="238.1" width="2.34" height="107.3"/><rect x="442.4" y="266.82" width="2.34" height="78.58"/><rect x="444.73" y="242.4" width="2.34" height="103"/><rect x="447.07" y="237.4" width="2.34" height="108"/><rect x="449.41" y="253.7" width="2.34" height="91.7"/><rect x="451.74" y="258.2" width="2.34" height="87.2"/><rect x="454.08" y="282.67" width="2.34" height="62.73"/><rect x="456.41" y="261.6" width="2.34" height="83.8"/><rect x="458.75" y="268.5" width="2.34" height="76.9"/><rect x="461.09" y="262.2" width="2.34" height="83.2"/><rect x="463.42" y="285.8" width="2.34" height="59.6"/><rect x="465.76" y="298.58" width="2.34" height="46.82"/><rect x="468.09" y="280.6" width="2.34" height="64.8"/><rect x="470.43" y="286.9" width="2.34" height="58.5"/><rect x="472.77" y="298.5" width="2.34" height="46.9"/><rect x="475.1" y="298.6" width="2.34" height="46.8"/><rect x="477.44" y="316.66" width="2.34" height="28.74"/><rect x="479.77" y="313.6" width="2.34" height="31.8"/><rect x="482.11" y="322.55" width="2.34" height="22.85"/><rect x="484.45" y="315.3" width="2.34" height="30.1"/><rect x="486.78" y="325.7" width="2.34" height="19.7"/><rect x="489.12" y="327.8" width="2.34" height="17.6"/><rect x="491.45" y="319.4" width="2.34" height="26"/><rect x="493.79" y="330.71" width="2.34" height="14.69"/><rect x="496.13" y="326.3" width="2.34" height="19.1"/><rect x="498.46" y="332.49" width="2.34" height="12.91"/><rect x="500.8" y="334.25" width="2.34" height="11.15"/><rect x="503.13" y="333.64" width="2.34" height="11.76"/><rect x="505.47" y="327.7" width="2.34" height="17.7"/><rect x="507.81" y="335.08" width="2.34" height="10.32"/><rect x="510.14" y="329.2" width="2.34" height="16.2"/><rect x="512.48" y="336.69" width="2.34" height="8.71"/><rect x="514.81" y="336.4" width="2.34" height="9"/><rect x="517.15" y="340.21" width="2.34" height="5.19"/><rect x="519.49" y="339.3" width="2.34" height="6.1"/></g>
<path d="M412.4,334.7 C412.75,333.72 413.75,331.77 414.5,328.8 C415.25,325.83 416.1,320.87 416.9,316.9 C417.7,312.93 418.73,307.53 419.3,305 C419.87,302.47 419.87,304.02 420.3,301.7 C420.73,299.38 421.37,294.62 421.9,291.1 C422.43,287.58 422.88,284.12 423.5,280.6 C424.12,277.08 424.95,272.35 425.6,270 C426.25,267.65 426.4,268.07 427.4,266.5 C428.4,264.93 429.77,262 431.6,260.6 C433.43,259.2 436.13,258.23 438.4,258.1 C440.67,257.97 443.23,258.53 445.2,259.8 C447.17,261.07 448.52,263.45 450.2,265.7 C451.88,267.95 453.67,270.47 455.3,273.3 C456.93,276.13 458.68,280.43 460,282.7 C461.32,284.97 462.15,285.32 463.2,286.9 C464.25,288.48 465.25,290.45 466.3,292.2 C467.35,293.95 468.43,295.65 469.5,297.4 C470.57,299.15 471.65,301.02 472.7,302.7 C473.75,304.38 474.55,305.45 475.8,307.5 C477.05,309.55 478.75,312.85 480.2,315 C481.65,317.15 483.05,318.88 484.5,320.4 C485.95,321.92 487.43,322.88 488.9,324.1 C490.37,325.32 491.85,326.55 493.3,327.7 C494.75,328.85 496.15,330.2 497.6,331 C499.05,331.8 500.3,332.15 502,332.5 C503.7,332.85 506.1,332.68 507.8,333.1 C509.5,333.52 510.75,334.08 512.2,335 C513.65,335.92 514.93,337.4 516.5,338.6 C518.07,339.8 520.75,341.6 521.6,342.2 L521.6,345.4 L412.4,345.4 Z" fill="#cd2626" fill-opacity="0.5" stroke="none"/>
<path d="M412.4,334.7 C412.75,333.72 413.75,331.77 414.5,328.8 C415.25,325.83 416.1,320.87 416.9,316.9 C417.7,312.93 418.73,307.53 419.3,305 C419.87,302.47 419.87,304.02 420.3,301.7 C420.73,299.38 421.37,294.62 421.9,291.1 C422.43,287.58 422.88,284.12 423.5,280.6 C424.12,277.08 424.95,272.35 425.6,270 C426.25,267.65 426.4,268.07 427.4,266.5 C428.4,264.93 429.77,262 431.6,260.6 C433.43,259.2 436.13,258.23 438.4,258.1 C440.67,257.97 443.23,258.53 445.2,259.8 C447.17,261.07 448.52,263.45 450.2,265.7 C451.88,267.95 453.67,270.47 455.3,273.3 C456.93,276.13 458.68,280.43 460,282.7 C461.32,284.97 462.15,285.32 463.2,286.9 C464.25,288.48 465.25,290.45 466.3,292.2 C467.35,293.95 468.43,295.65 469.5,297.4 C470.57,299.15 471.65,301.02 472.7,302.7 C473.75,304.38 474.55,305.45 475.8,307.5 C477.05,309.55 478.75,312.85 480.2,315 C481.65,317.15 483.05,318.88 484.5,320.4 C485.95,321.92 487.43,322.88 488.9,324.1 C490.37,325.32 491.85,326.55 493.3,327.7 C494.75,328.85 496.15,330.2 497.6,331 C499.05,331.8 500.3,332.15 502,332.5 C503.7,332.85 506.1,332.68 507.8,333.1 C509.5,333.52 510.75,334.08 512.2,335 C513.65,335.92 514.93,337.4 516.5,338.6 C518.07,339.8 520.75,341.6 521.6,342.2 L521.6,345.4 L412.4,345.4 Z" fill="none" stroke="#000" stroke-width="1.0" stroke-linejoin="round"/>
<path d="M407.8,226.5 V351 H535.6" fill="none" stroke="#333" stroke-width="1.07"/>
<text x="413.2" y="362.6" font-size="11.1" fill="#4d4d4d" text-anchor="middle">0</text>
<text x="442.4" y="362.6" font-size="11.1" fill="#4d4d4d" text-anchor="middle">25</text>
<text x="471.6" y="362.6" font-size="11.1" fill="#4d4d4d" text-anchor="middle">50</text>
<text x="500.8" y="362.6" font-size="11.1" fill="#4d4d4d" text-anchor="middle">75</text>
<text x="530" y="362.6" font-size="11.1" fill="#4d4d4d" text-anchor="middle">100</text>
<text x="403.7" y="349.55" font-size="11.1" fill="#4d4d4d" text-anchor="end">0.00</text>
<text x="403.7" y="308.65" font-size="11.1" fill="#4d4d4d" text-anchor="end">0.01</text>
<text x="403.7" y="267.75" font-size="11.1" fill="#4d4d4d" text-anchor="end">0.02</text>
<path d="M413.2,351 v2.2 M442.4,351 v2.2 M471.6,351 v2.2 M500.8,351 v2.2 M530,351 v2.2 M407.8,345.4 h-2.2 M407.8,304.5 h-2.2 M407.8,263.6 h-2.2" stroke="#333" stroke-width="1.07"/>
<text x="407.9" y="219.1" font-size="12.42">Go/No-Go ER</text>
<text x="471.7" y="375.6" font-size="11.75" text-anchor="middle">ER [%]</text>
<text transform="translate(371.1,288.75) rotate(-90)" font-size="11.75" text-anchor="middle">Density</text>
<g fill="#fff" stroke="#000" stroke-width="0.8"><rect x="610.4" y="342.07" width="3.5" height="3.33"/><rect x="613.89" y="334.1" width="3.5" height="11.3"/><rect x="617.39" y="302.08" width="3.5" height="43.32"/><rect x="620.89" y="275.8" width="3.5" height="69.6"/><rect x="624.38" y="242.2" width="3.5" height="103.2"/><rect x="627.88" y="232.2" width="3.5" height="113.2"/><rect x="631.38" y="232.7" width="3.5" height="112.7"/><rect x="634.88" y="231.7" width="3.5" height="113.7"/><rect x="638.37" y="264.4" width="3.5" height="81"/><rect x="641.87" y="290.88" width="3.5" height="54.52"/><rect x="645.37" y="300.73" width="3.5" height="44.67"/><rect x="648.86" y="312.88" width="3.5" height="32.52"/><rect x="652.36" y="321.58" width="3.5" height="23.82"/><rect x="655.86" y="330.49" width="3.5" height="14.91"/><rect x="659.36" y="335.14" width="3.5" height="10.26"/><rect x="662.85" y="338.63" width="3.5" height="6.77"/><rect x="666.35" y="340.3" width="3.5" height="5.1"/><rect x="669.85" y="341.81" width="3.5" height="3.59"/><rect x="673.34" y="343.96" width="3.5" height="1.44"/><rect x="676.84" y="344.59" width="3.5" height="0.81"/><rect x="680.34" y="345.01" width="3.5" height="0.39"/></g>
<path d="M610.9,344.3 C611.32,343.52 612.55,341.78 613.4,339.6 C614.25,337.42 615.28,335.07 616,331.2 C616.72,327.33 617.15,322.03 617.7,316.4 C618.25,310.77 618.78,303.02 619.3,297.4 C619.82,291.78 620.2,287.27 620.8,282.7 C621.4,278.13 622.3,274.28 622.9,270 C623.5,265.72 623.95,260.48 624.4,257 C624.85,253.52 625.23,251.65 625.6,249.1 C625.97,246.55 626.08,244.17 626.6,241.7 C627.12,239.23 627.73,235.8 628.7,234.3 C629.67,232.8 631.25,232.7 632.4,232.7 C633.55,232.7 634.8,233.32 635.6,234.3 C636.4,235.28 636.68,236.48 637.2,238.6 C637.72,240.72 638.27,244.37 638.7,247 C639.13,249.63 639.47,251.65 639.8,254.4 C640.13,257.15 640.4,260.9 640.7,263.5 C641,266.1 641.22,266.8 641.6,270 C641.98,273.2 642.55,279.53 643,282.7 C643.45,285.87 643.78,286.55 644.3,289 C644.82,291.45 645.63,295.73 646.1,297.4 C646.57,299.07 646.53,297.6 647.1,299 C647.67,300.4 648.7,303.35 649.5,305.8 C650.3,308.25 651.12,311.18 651.9,313.7 C652.68,316.22 653.28,318.52 654.2,320.9 C655.12,323.28 656.33,325.77 657.4,328 C658.47,330.23 659.55,332.72 660.6,334.3 C661.65,335.88 662.52,336.65 663.7,337.5 C664.88,338.35 666.38,338.75 667.7,339.4 C669.02,340.05 670.42,340.67 671.6,341.4 C672.78,342.13 673.22,343.22 674.8,343.8 C676.38,344.38 678.85,344.63 681.1,344.9 C683.35,345.17 687.1,345.32 688.3,345.4 L688.3,345.4 L610.9,345.4 Z" fill="#cd2626" fill-opacity="0.5" stroke="none"/>
<path d="M610.9,344.3 C611.32,343.52 612.55,341.78 613.4,339.6 C614.25,337.42 615.28,335.07 616,331.2 C616.72,327.33 617.15,322.03 617.7,316.4 C618.25,310.77 618.78,303.02 619.3,297.4 C619.82,291.78 620.2,287.27 620.8,282.7 C621.4,278.13 622.3,274.28 622.9,270 C623.5,265.72 623.95,260.48 624.4,257 C624.85,253.52 625.23,251.65 625.6,249.1 C625.97,246.55 626.08,244.17 626.6,241.7 C627.12,239.23 627.73,235.8 628.7,234.3 C629.67,232.8 631.25,232.7 632.4,232.7 C633.55,232.7 634.8,233.32 635.6,234.3 C636.4,235.28 636.68,236.48 637.2,238.6 C637.72,240.72 638.27,244.37 638.7,247 C639.13,249.63 639.47,251.65 639.8,254.4 C640.13,257.15 640.4,260.9 640.7,263.5 C641,266.1 641.22,266.8 641.6,270 C641.98,273.2 642.55,279.53 643,282.7 C643.45,285.87 643.78,286.55 644.3,289 C644.82,291.45 645.63,295.73 646.1,297.4 C646.57,299.07 646.53,297.6 647.1,299 C647.67,300.4 648.7,303.35 649.5,305.8 C650.3,308.25 651.12,311.18 651.9,313.7 C652.68,316.22 653.28,318.52 654.2,320.9 C655.12,323.28 656.33,325.77 657.4,328 C658.47,330.23 659.55,332.72 660.6,334.3 C661.65,335.88 662.52,336.65 663.7,337.5 C664.88,338.35 666.38,338.75 667.7,339.4 C669.02,340.05 670.42,340.67 671.6,341.4 C672.78,342.13 673.22,343.22 674.8,343.8 C676.38,344.38 678.85,344.63 681.1,344.9 C683.35,345.17 687.1,345.32 688.3,345.4 L688.3,345.4 L610.9,345.4 Z" fill="none" stroke="#000" stroke-width="1.0" stroke-linejoin="round"/>
<path d="M589,226.5 V351 H717" fill="none" stroke="#333" stroke-width="1.07"/>
<text x="605.5" y="362.6" font-size="11.1" fill="#4d4d4d" text-anchor="middle">200</text>
<text x="640.47" y="362.6" font-size="11.1" fill="#4d4d4d" text-anchor="middle">300</text>
<text x="675.43" y="362.6" font-size="11.1" fill="#4d4d4d" text-anchor="middle">400</text>
<text x="710.4" y="362.6" font-size="11.1" fill="#4d4d4d" text-anchor="middle">500</text>
<text x="584.7" y="349.55" font-size="11.1" fill="#4d4d4d" text-anchor="end">0.000</text>
<text x="584.7" y="308.3" font-size="11.1" fill="#4d4d4d" text-anchor="end">0.005</text>
<text x="584.7" y="267.05" font-size="11.1" fill="#4d4d4d" text-anchor="end">0.010</text>
<path d="M605.5,351 v2.2 M640.47,351 v2.2 M675.43,351 v2.2 M710.4,351 v2.2 M589,345.4 h-2.2 M589,304.15 h-2.2 M589,262.9 h-2.2" stroke="#333" stroke-width="1.07"/>
<text x="589.1" y="219.1" font-size="12.42">Go/No-Go RT</text>
<text x="653" y="375.6" font-size="11.75" text-anchor="middle">RT [ms]</text>
<text transform="translate(552.8,288.75) rotate(-90)" font-size="11.75" text-anchor="middle">Density</text>
</svg>
</body></html>
